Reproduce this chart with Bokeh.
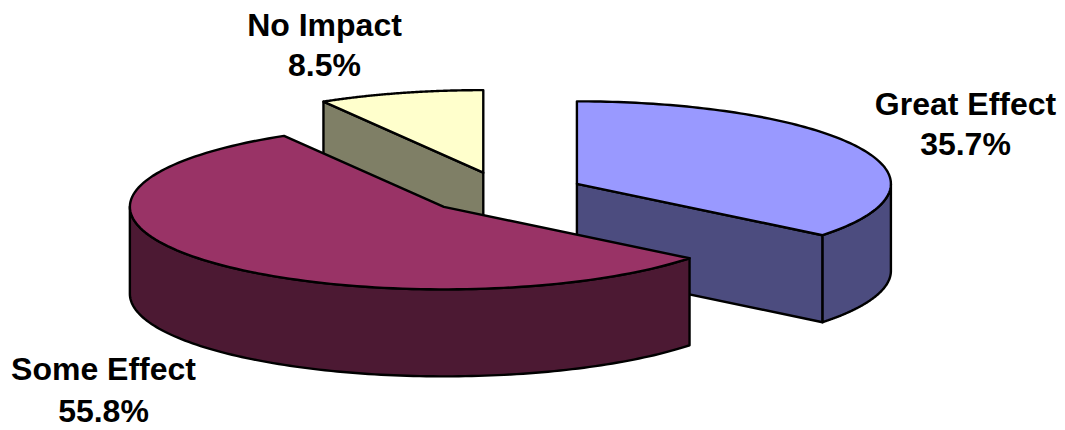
import numpy as np
from bokeh.plotting import figure
from bokeh.embed import file_html
from bokeh.resources import INLINE
from bokeh.core.properties import value

categories = ["Great Effect", "Some Effect", "No Impact"]
shares = [35.7, 55.8, 8.5]
top_colors = ["#9999FF", "#993366", "#FFFFCC"]
side_colors = ["#4C4C7F", "#4C1933", "#7F7F66"]

CX, CY = 504.0, 192.5
RX, RY = 314.0, 82.5
DEPTH = 87.0
EXPLODE = 0.256
LW = 2.4
FONT = "Liberation Sans"
FS = "32px"
label_at = {"Great Effect": (965, 103, 143), "Some Effect": (103, 368, 410), "No Impact": (324, 24, 64)}

p = figure(width=1065, height=430, x_range=(0, 1065), y_range=(430, 0),
           output_backend="svg", toolbar_location=None, min_border=0)
p.axis.visible = False
p.grid.visible = False
p.outline_line_color = None
p.background_fill_color = "white"


def arc(ax, ay, a0, a1, n=120):
    t = np.radians(np.linspace(a0, a1, n))
    return ax + RX * np.sin(t), ay - RY * np.cos(t)


edges = np.concatenate([[0], np.cumsum(shares)]) * 3.6
apex = []
for a0, a1 in zip(edges[:-1], edges[1:]):
    m = np.radians((a0 + a1) / 2)
    apex.append((CX + EXPLODE * RX * np.sin(m), CY - EXPLODE * RY * np.cos(m)))


def side(i, xs, ys, closed_xs, closed_ys):
    p.patch(list(xs) + list(closed_xs), list(ys) + list(closed_ys),
            fill_color=side_colors[i], line_color="black", line_width=LW, line_join="round")


def top(i):
    ax, ay = apex[i]
    xs, ys = arc(ax, ay, edges[i], edges[i + 1])
    p.patch([ax] + list(xs), [ay] + list(ys), fill_color=top_colors[i],
            line_color="black", line_width=LW, line_join="round")


def cut_face(i, ang):
    ax, ay = apex[i]
    x, y = arc(ax, ay, ang, ang, 1)
    side(i, [ax, x[0]], [ay, y[0]], [x[0], ax], [y[0] + DEPTH, ay + DEPTH])


def wall(i, a0, a1):
    ax, ay = apex[i]
    xs, ys = arc(ax, ay, a0, a1)
    side(i, xs, ys, xs[::-1], ys[::-1] + DEPTH)


# back to front: No Impact, Great Effect, Some Effect
cut_face(2, edges[2])
top(2)
cut_face(0, edges[1])
wall(0, 90, edges[1])
top(0)
wall(1, edges[1], 270)
top(1)

for name, share in zip(categories, shares):
    x, y1, y2 = label_at[name]
    for y, txt in ((y1, name), (y2, f"{share}%")):
        p.text([x], [y], text=[txt], text_font=value(FONT), text_font_size=FS,
               text_font_style="bold", text_align="center", text_baseline="middle",
               text_color="black")

open("out.html", "w").write(file_html(p, INLINE))
